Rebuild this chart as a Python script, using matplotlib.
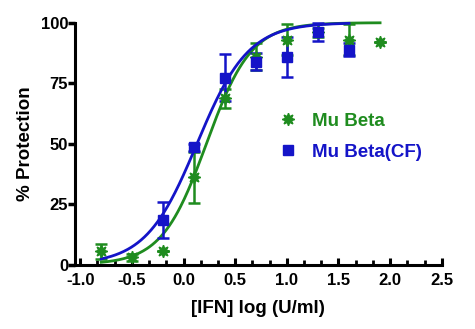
import numpy as np
import matplotlib
matplotlib.use("Agg")
import matplotlib.pyplot as plt
from matplotlib.ticker import MultipleLocator

# log10 dose (U/ml)
dose_green = [-0.796, -0.495, -0.194, 0.097, 0.398, 0.699, 1.0, 1.301, 1.602, 1.903]
prot_green = [5.4, 3.0, 5.4, 36.0, 68.7, 86.0, 93.0, 96.0, 93.0, 92.0]
err_green = [3.0, 1.5, 0.0, 10.5, 4.0, 5.5, 6.5, 2.0, 6.5, 0.0]

dose_blue = [-0.194, 0.097, 0.398, 0.699, 1.0, 1.301, 1.602]
prot_blue = [18.4, 48.5, 77.3, 83.8, 85.9, 96.2, 88.9]
err_blue = [7.3, 1.5, 9.7, 3.5, 8.3, 3.8, 2.5]

# fitted sigmoid parameters (logEC50, hill slope)
fit_green = (0.222, 2.0)
fit_blue = (0.131, 1.75)

labels = ["Mu Beta", "Mu Beta(CF)"]
green = "#1f8c1f"
blue = "#1414c8"

plt.rcParams["font.family"] = ["Liberation Sans", "DejaVu Sans"]
plt.rcParams["font.weight"] = "bold"

fig = plt.figure(figsize=(4.75, 3.29), dpi=100)
ax = fig.add_axes([0.158, 0.196, 0.772, 0.735])


def sigmoid(x, ec50, h):
    return 100.0 / (1.0 + 10 ** ((ec50 - x) * h))


xg = np.linspace(dose_green[0], dose_green[-1], 300)
ax.plot(xg, sigmoid(xg, *fit_green), color=green, lw=2.0, clip_on=False, zorder=3)
xb = np.linspace(dose_green[0], dose_blue[-1], 300)
ax.plot(xb, sigmoid(xb, *fit_blue), color=blue, lw=2.0, clip_on=False, zorder=4)

ax.errorbar(dose_green, prot_green, yerr=err_green, fmt="none", ecolor=green,
            elinewidth=1.8, capsize=4, capthick=1.8, clip_on=False, zorder=3)
ax.plot(dose_green, prot_green, ls="none", marker=(8, 1, 0), ms=9, color=green,
        clip_on=False, zorder=5, label=labels[0])
ax.errorbar(dose_blue, prot_blue, yerr=err_blue, fmt="none", ecolor=blue,
            elinewidth=1.8, capsize=4, capthick=1.8, clip_on=False, zorder=4)
ax.plot(dose_blue, prot_blue, ls="none", marker="s", ms=7, color=blue,
        clip_on=False, zorder=6, label=labels[1])

ax.set_xlim(-1.05, 2.5)
ax.set_ylim(0, 100)
ax.xaxis.set_minor_locator(MultipleLocator(0.5 / 3))
ax.yaxis.set_major_locator(MultipleLocator(25))
ax.set_xticks([-1.0, -0.5, 0.0, 0.5, 1.0, 1.5, 2.0, 2.5])
ax.set_xticklabels(["-1.0", "-0.5", "0.0", "0.5", "1.0", "1.5", "2.0", "2.5"])

for s in ["top", "right"]:
    ax.spines[s].set_visible(False)
for s in ["left", "bottom"]:
    ax.spines[s].set_linewidth(2.2)

ax.tick_params(axis="y", direction="out", length=5, width=2.5, labelsize=12, pad=0)
ax.tick_params(axis="x", which="major", direction="in", length=5, width=2.2,
               labelsize=12, pad=6)
ax.tick_params(axis="x", which="minor", direction="in", length=3.5, width=2.0)

ax.set_xlabel("[IFN] log (U/ml)", fontsize=13.5, fontweight="bold", labelpad=9)
ax.set_ylabel("% Protection", fontsize=13.5, fontweight="bold", labelpad=5)

leg = ax.legend(loc="upper left", bbox_to_anchor=(0.54, 0.66), frameon=False,
                fontsize=13.5, handlelength=0.8, handletextpad=0.9,
                labelspacing=0.75, borderaxespad=0)
for txt, c in zip(leg.get_texts(), [green, blue]):
    txt.set_color(c)

fig.savefig("out.png", dpi=100)
